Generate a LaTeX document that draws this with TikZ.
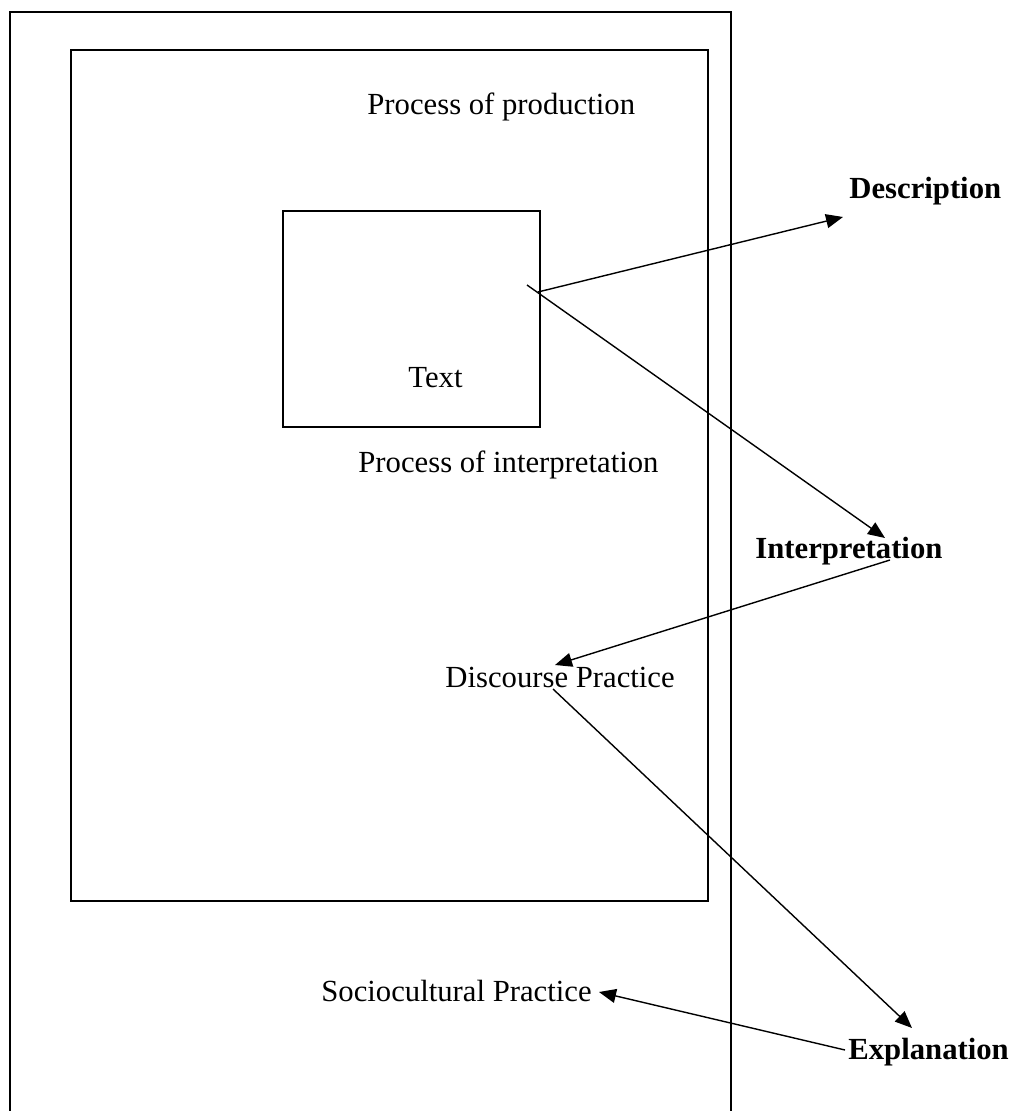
\documentclass[tikz,border=0pt]{standalone}
\usepackage{fontspec}
\setmainfont{Liberation Serif}
\usetikzlibrary{arrows.meta}
\begin{document}
\begin{tikzpicture}[x=0.5pt,y=-0.5pt,
  lbl/.style={inner sep=0pt,anchor=base west,font=\fontsize{15.35}{18}\selectfont},
  blbl/.style={lbl,font=\fontsize{15.35}{18}\selectfont\bfseries},
  conn/.style={line width=0.7pt,-{Triangle[length=8.5pt,width=7pt]}}]
\useasboundingbox (0,0) rectangle (1016,1111);
% frames
\draw[line width=1pt] (10,1112) -- (10,12) -- (731,12) -- (731,1112);
\draw[line width=0.75pt] (71,50) rectangle (708,901);
\node[draw,line width=0.75pt,minimum width=128.5pt,minimum height=108pt,inner sep=0pt] (textbox) at (411.5,319) {};
% labels
\node[lbl] (prod) at (367,115) {Process of production};
\node[blbl] (desc) at (849,199) {Description};
\node[lbl] (text) at (408,388) {Text};
\node[lbl] (interp) at (358,473) {Process of interpretation};
\node[blbl] (interpn) at (755,558) {Interpretation};
\node[lbl] (disc) at (445,687) {Discourse Practice};
\node[lbl] (socio) at (321,1001) {Sociocultural Practice};
\node[blbl] (expl) at (848,1059) {Explanation};
% connector ends
\coordinate (s1) at (538,292);
\coordinate (t1) at (843,217);
\coordinate (s2) at (527,285);
\coordinate (t2) at (885,538);
\coordinate (s3) at (890,560);
\coordinate (t3) at (555,665);
\coordinate (s4) at (553,689);
\coordinate (t4) at (912,1028);
\coordinate (s5) at (845,1050);
\coordinate (t5) at (599,992);
\draw[conn] (s1) -- (t1);
\draw[conn] (s2) -- (t2);
\draw[conn] (s3) -- (t3);
\draw[conn] (s4) -- (t4);
\draw[conn] (s5) -- (t5);
\end{tikzpicture}
\end{document}
